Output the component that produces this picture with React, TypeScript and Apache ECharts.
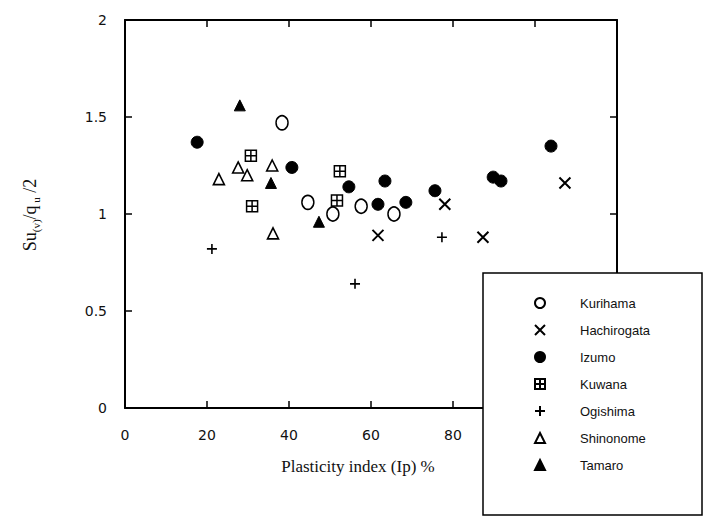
import React, { useEffect, useRef } from "react";
import * as echarts from "echarts";

const xTicks = [0, 20, 40, 60, 80];
const yTicks = [0, 0.5, 1, 1.5, 2];

const seriesNames = ["Kurihama", "Hachirogata", "Izumo", "Kuwana", "Ogishima", "Shinonome", "Tamaro"];

const kurihama = [[38.3, 1.47], [44.6, 1.06], [50.7, 1.0], [57.6, 1.04], [65.6, 1.0]];
const hachirogata = [[61.7, 0.89], [78, 1.05], [87.3, 0.88], [107.3, 1.16]];
const izumo = [[17.6, 1.37], [40.7, 1.24], [54.6, 1.14], [61.7, 1.05], [63.4, 1.17], [68.5, 1.06], [75.6, 1.12], [89.8, 1.19], [91.7, 1.17], [103.9, 1.35]];
const kuwana = [[30.7, 1.30], [31.0, 1.04], [51.7, 1.07], [52.4, 1.22]];
const ogishima = [[21.2, 0.82], [56.1, 0.64], [77.3, 0.88]];
const shinonome = [[22.9, 1.18], [27.6, 1.24], [29.8, 1.20], [35.9, 1.25], [36.1, 0.90]];
const tamaro = [[28, 1.56], [35.6, 1.16], [47.3, 0.96]];

const CROSS = "path://M0,0 L10,10 M10,0 L0,10";
const PLUS = "path://M5,0 L5,10 M0,5 L10,5";
const BOXPLUS = "path://M0,0 L10,0 L10,10 L0,10 Z M5,0 L5,10 M0,5 L10,5";

export default function App() {
  const ref = useRef<HTMLDivElement>(null);
  useEffect(() => {
    if (!ref.current) return;
    const chart = echarts.init(ref.current, null, { renderer: "svg" });
    const tickFont = { fontFamily: "DejaVu Sans", fontSize: 14, color: "#111" };
    const line = { onZero: false, lineStyle: { color: "#000", width: 2 } };
    const tick = { show: true, inside: true, length: 7, lineStyle: { color: "#000", width: 1.5 } };
    const mk = (name: string, data: number[][], symbol: string, size: any, fill: string, stroke: number) => ({
      name,
      type: "scatter",
      data,
      symbol,
      symbolSize: size,
      itemStyle: { color: fill, borderColor: "#000", borderWidth: stroke, opacity: 1 },
      z: 5,
    });
    chart.setOption({
      animation: false,
      backgroundColor: "#fff",
      grid: { left: 125, right: 88, top: 20, bottom: 113 },
      xAxis: [
        {
          type: "value", min: 0, max: 120, interval: 20, position: "bottom",
          axisLine: { show: true, ...line },
          axisTick: tick,
          axisLabel: { ...tickFont, margin: 20, formatter: (v: number) => (xTicks.includes(v) ? String(v) : "") },
          splitLine: { show: false },
        },
        {
          type: "value", min: 0, max: 120, interval: 20, position: "top",
          axisLine: { show: true, ...line },
          axisTick: tick,
          axisLabel: { show: false },
          splitLine: { show: false },
        },
      ],
      yAxis: [
        {
          type: "value", min: 0, max: 2, interval: 0.5, position: "left",
          axisLine: { show: true, ...line },
          axisTick: tick,
          axisLabel: { ...tickFont, margin: 18, formatter: (v: number) => (yTicks.includes(v) ? String(v) : "") },
          splitLine: { show: false },
        },
        {
          type: "value", min: 0, max: 2, interval: 0.5, position: "right",
          axisLine: { show: true, ...line },
          axisTick: tick,
          axisLabel: { show: false },
          splitLine: { show: false },
        },
      ],
      legend: {
        orient: "vertical",
        left: 529,
        top: 290,
        itemWidth: 10,
        itemHeight: 10,
        itemGap: 11,
        data: seriesNames,
        textStyle: { fontFamily: "Liberation Sans", fontSize: 13, color: "#111", lineHeight: 16, padding: [0, 0, 0, 30] },
        z: 200,
      },
      graphic: [
        {
          type: "rect",
          z: 100,
          shape: { x: 483, y: 273, width: 219, height: 242 },
          style: { fill: "#fff", stroke: "#000", lineWidth: 1.5 },
        },
        {
          type: "text",
          z: 100,
          x: 358,
          y: 466,
          style: {
            text: "Plasticity index (Ip) %",
            fontFamily: "Liberation Serif",
            fontSize: 17,
            fill: "#111",
            align: "center",
            verticalAlign: "middle",
          },
        },
        {
          type: "text",
          z: 100,
          x: 30,
          y: 215,
          rotation: Math.PI / 2,
          style: {
            text: "{a|Su}{b|(v)}{a|/q}{b| u}{a| /2}",
            align: "center",
            verticalAlign: "middle",
            rich: {
              a: { fontFamily: "Liberation Serif", fontSize: 18, fill: "#111", lineHeight: 22, verticalAlign: "middle" },
              b: { fontFamily: "Liberation Serif", fontSize: 11, fill: "#111", lineHeight: 22, verticalAlign: "bottom", padding: [6, 0, 0, 0] },
            },
          },
        },
      ],
      series: [
        mk("Kurihama", kurihama, "circle", [12, 14], "#fff", 1.6),
        mk("Hachirogata", hachirogata, CROSS, 11, "transparent", 2),
        mk("Izumo", izumo, "circle", 12, "#000", 1),
        mk("Kuwana", kuwana, BOXPLUS, 11, "#fff", 1.5),
        mk("Ogishima", ogishima, PLUS, 10, "transparent", 1.6),
        mk("Shinonome", shinonome, "triangle", 11, "#fff", 1.6),
        mk("Tamaro", tamaro, "triangle", 11, "#000", 1),
      ],
    });
    return () => chart.dispose();
  }, []);
  return <div ref={ref} style={{ width: 705, height: 521, position: "absolute", left: 0, top: 0 }} />;
}
